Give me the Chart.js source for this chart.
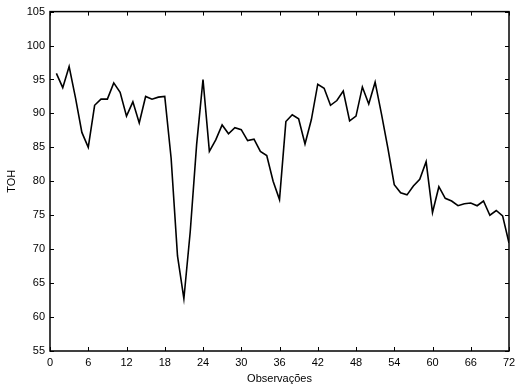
<!DOCTYPE html>
<html>
<head>
<meta charset="utf-8">
<script src="https://cdn.jsdelivr.net/npm/chart.js@4.4.1/dist/chart.umd.min.js"></script>
<style>
    html, body { margin: 0; padding: 0; background: #fff; }
</style>
</head>
<body>
<canvas id="chart" width="523" height="390"></canvas>
<script>
// ========================================
// Data
// ========================================
const observacoes = [
    1, 2, 3, 4, 5, 6, 7, 8, 9, 10, 11, 12, 13, 14, 15, 16, 17, 18,
    19, 20, 21, 22, 23, 24, 25, 26, 27, 28, 29, 30, 31, 32, 33, 34, 35, 36,
    37, 38, 39, 40, 41, 42, 43, 44, 45, 46, 47, 48, 49, 50, 51, 52, 53, 54,
    55, 56, 57, 58, 59, 60, 61, 62, 63, 64, 65, 66, 67, 68, 69, 70, 71, 72
];
const toh = [
    95.9, 93.8, 96.9, 92.3, 87.2, 85.0, 91.2, 92.1, 92.1, 94.5, 93.1, 89.6,
    91.7, 88.6, 92.5, 92.1, 92.4, 92.5, 83.4, 69.0, 62.7, 72.6, 85.4, 95.0,
    84.4, 86.1, 88.3, 87.0, 87.9, 87.6, 86.0, 86.2, 84.4, 83.8, 80.0, 77.3,
    88.8, 89.8, 89.2, 85.5, 89.1, 94.3, 93.7, 91.2, 91.9, 93.3, 88.9, 89.6,
    93.9, 91.4, 94.6, 89.9, 84.9, 79.5, 78.3, 78.0, 79.3, 80.3, 82.9, 75.4,
    79.2, 77.5, 77.1, 76.4, 76.7, 76.8, 76.4, 77.1, 75.0, 75.7, 74.9, 70.9
];
const xTicks = [0, 6, 12, 18, 24, 30, 36, 42, 48, 54, 60, 66, 72];
const yTicks = [55, 60, 65, 70, 75, 80, 85, 90, 95, 100, 105];

const FONT = { family: 'Liberation Sans, Arial, sans-serif', size: 11 };

// Frame + inward tick marks on all four sides
const frameTicks = {
    id: 'frameTicks',
    afterDraw(chart) {
        const { ctx, chartArea: a, scales } = chart;
        const len = 4;
        ctx.save();
        ctx.strokeStyle = '#000';
        ctx.lineWidth = 1.5;
        ctx.strokeRect(a.left, a.top, a.right - a.left, a.bottom - a.top);
        ctx.lineWidth = 1;
        ctx.beginPath();
        xTicks.forEach(v => {
            const px = Math.round(scales.x.getPixelForValue(v)) + 0.5;
            ctx.moveTo(px, a.bottom); ctx.lineTo(px, a.bottom - len);
            ctx.moveTo(px, a.top); ctx.lineTo(px, a.top + len);
        });
        yTicks.forEach(v => {
            const py = Math.round(scales.y.getPixelForValue(v)) + 0.5;
            ctx.moveTo(a.left, py); ctx.lineTo(a.left + len, py);
            ctx.moveTo(a.right, py); ctx.lineTo(a.right - len, py);
        });
        ctx.stroke();
        ctx.restore();
    }
};

new Chart(document.getElementById('chart'), {
    type: 'line',
    data: {
        datasets: [{
            data: observacoes.map((x, i) => ({ x: x, y: toh[i] })),
            borderColor: '#000',
            borderWidth: 1.6,
            pointRadius: 0,
            tension: 0,
            fill: false
        }]
    },
    options: {
        responsive: false,
        animation: false,
        layout: { padding: { top: 10, right: 14, bottom: 0, left: 0 } },
        plugins: { legend: { display: false }, tooltip: { enabled: false } },
        scales: {
            x: {
                type: 'linear',
                min: 0,
                max: 72,
                afterBuildTicks: s => { s.ticks = xTicks.map(v => ({ value: v })); },
                afterFit: s => { s.height = 39; },
                grid: { display: false, drawTicks: false },
                border: { display: false },
                ticks: { color: '#000', font: FONT, padding: 5, maxRotation: 0, autoSkip: false },
                title: { display: true, text: 'Observações', color: '#000', font: FONT, padding: { top: 0, bottom: 4 } }
            },
            y: {
                min: 55,
                max: 105,
                afterBuildTicks: s => { s.ticks = yTicks.map(v => ({ value: v })); },
                afterFit: s => { s.width = 50; },
                grid: { display: false, drawTicks: false },
                border: { display: false },
                ticks: { color: '#000', font: FONT, padding: 5 },
                title: { display: true, text: 'TOH', color: '#000', font: FONT, padding: { top: 5, bottom: 0 } }
            }
        }
    },
    plugins: [frameTicks]
});
</script>
</body>
</html>
